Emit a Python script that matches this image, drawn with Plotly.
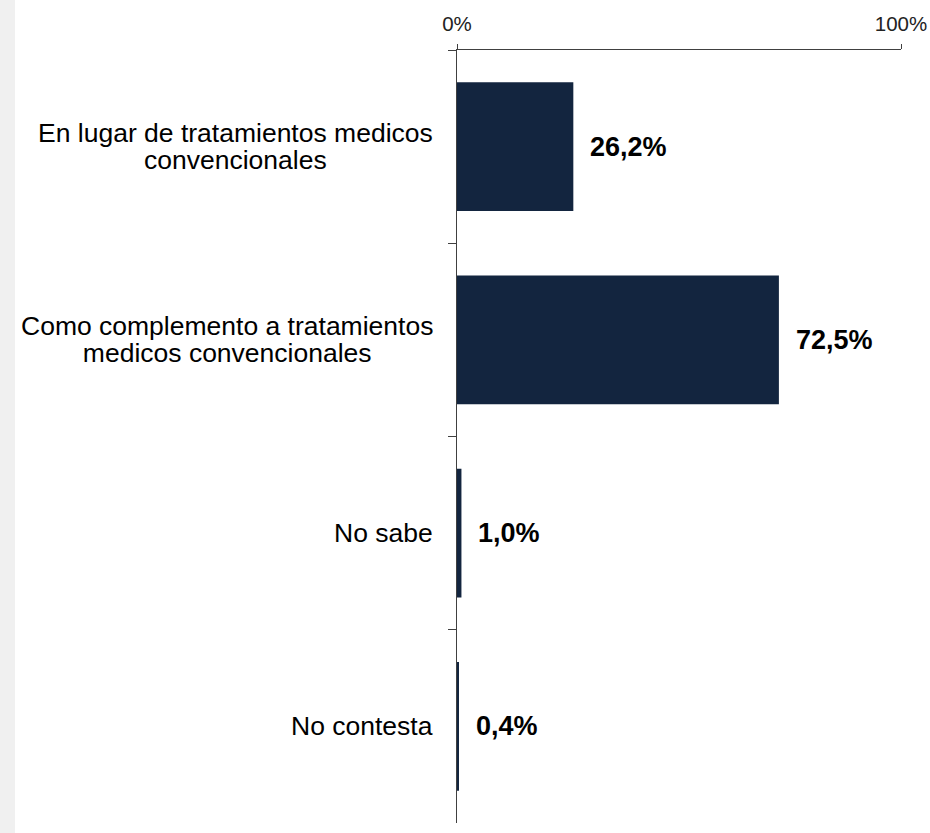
import plotly.graph_objects as go

categories = [
    "En lugar de tratamientos medicos<br>convencionales",
    "Como complemento a tratamientos<br>medicos convencionales",
    "No sabe",
    "No contesta",
]
values = [26.2, 72.5, 1.0, 0.4]
value_labels = ["26,2%", "72,5%", "1,0%", "0,4%"]
x_ticks = [0, 100]
x_tick_labels = ["0%", "100%"]

bar_color = "#13253f"
axis_color = "#404040"
font_family = "Liberation Sans, Arial, sans-serif"
cat_font_px = 26.5
line_gap_px = 27.0


def styled(label):
    lines = label.split("<br>")
    return "<br>".join(
        "<span style='font-size:%.1fpx'>%s</span>" % (cat_font_px, ln) for ln in lines
    )


fig = go.Figure()
fig.add_trace(go.Bar(
    x=values,
    y=categories,
    orientation="h",
    marker=dict(color=bar_color, line=dict(width=0)),
    width=0.667,
    hoverinfo="skip",
))

annotations = []
for cat, v, lab in zip(categories, values, value_labels):
    annotations.append(dict(
        x=v, y=cat, xref="x", yref="y",
        text="<b>" + lab + "</b>",
        showarrow=False, xanchor="left", yanchor="middle",
        xshift=15,
        font=dict(family=font_family, size=27, color="#000000"),
    ))
    # category label, lines centred on each other, right edge near the axis
    annotations.append(dict(
        x=0, y=cat, xref="paper", yref="y",
        text=styled(cat),
        showarrow=False, xanchor="right", yanchor="middle", align="center",
        xshift=-22,
        font=dict(family=font_family, size=line_gap_px / 1.3, color="#000000"),
    ))

fig.update_layout(
    template="none",
    width=930, height=833,
    autosize=False,
    margin=dict(l=457, r=29, t=50, b=10, pad=0),
    paper_bgcolor="#ffffff",
    plot_bgcolor="#ffffff",
    showlegend=False,
    font=dict(family=font_family, color="#000000"),
    annotations=annotations,
    shapes=[dict(
        type="rect", xref="paper", yref="paper",
        xsizemode="pixel", xanchor=0,
        x0=-457, x1=-442, y0=-1, y1=2,
        fillcolor="#f0f0f0", line=dict(width=0), layer="below",
    )],
    xaxis=dict(
        side="top",
        range=[0, 100],
        tickvals=x_ticks,
        ticktext=x_tick_labels,
        ticks="outside", ticklen=5, tickcolor=axis_color, tickwidth=1,
        showline=True, linecolor=axis_color, linewidth=1,
        showgrid=False, zeroline=False,
        tickfont=dict(size=20.5, color="#222222"),
        ticklabelstandoff=5,
        automargin=False,
        fixedrange=True,
    ),
    yaxis=dict(
        type="category",
        categoryorder="array", categoryarray=categories,
        autorange="reversed",
        tickson="boundaries",
        ticks="outside", ticklen=8, tickcolor=axis_color, tickwidth=1,
        showline=True, linecolor=axis_color, linewidth=1,
        showgrid=False, zeroline=False,
        showticklabels=False,
        automargin=False,
        fixedrange=True,
    ),
)

fig.write_html(
    "out.html",
    config={"displayModeBar": False},
    post_script="document.body.style.margin='0px';",
)
